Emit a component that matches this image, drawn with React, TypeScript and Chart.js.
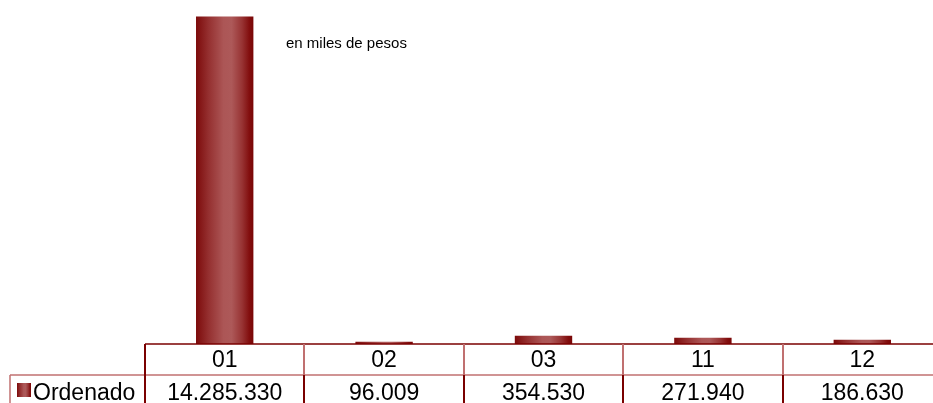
import React, { useEffect, useRef } from "react";
import { Chart, registerables } from "chart.js";

Chart.register(...registerables);

const categories = ["01", "02", "03", "11", "12"];
const seriesName = "Ordenado";
const values = [14285330, 96009, 354530, 271940, 186630];
const unitNote = "en miles de pesos";
const yMax = 15000000;

const DARK = "#7f0a0a";
const LINE = "#7a0000";
const LIGHT_LINE = "#c07070";
const FONT = 'Arial, "Liberation Sans", sans-serif';

function fmt(v: number): string {
  return String(v).replace(/\B(?=(\d{3})+(?!\d))/g, ".");
}

function barGradient(ctx: CanvasRenderingContext2D, x0: number, x1: number) {
  const g = ctx.createLinearGradient(x0, 0, x1, 0);
  g.addColorStop(0, "#7c0a0a");
  g.addColorStop(0.22, "#953030");
  g.addColorStop(0.48, "#ac5656");
  g.addColorStop(0.62, "#ad5959");
  g.addColorStop(0.8, "#983434");
  g.addColorStop(0.93, "#820e0e");
  g.addColorStop(1, "#790606");
  return g;
}

const tablePlugin = {
  id: "dataTable",
  afterDraw(chart: any) {
    const ctx: CanvasRenderingContext2D = chart.ctx;
    const xs = chart.scales.x;
    const area = chart.chartArea;
    const n = categories.length;
    const colW = (area.right - area.left) / n;
    const top = area.bottom;
    const row1 = top + 31;
    const bottom = chart.height + 5;
    const rightEdge = chart.width;
    ctx.save();
    ctx.strokeStyle = LIGHT_LINE;
    ctx.lineWidth = 1.5;
    ctx.beginPath();
    ctx.moveTo(10, row1);
    ctx.lineTo(rightEdge, row1);
    ctx.stroke();
    ctx.strokeStyle = LINE;
    ctx.lineWidth = 1.5;
    ctx.beginPath();
    ctx.moveTo(area.left, top);
    ctx.lineTo(rightEdge, top);
    ctx.stroke();
    ctx.lineWidth = 2;
    for (let i = 0; i <= n; i++) {
      const x = Math.round(area.left + i * colW);
      ctx.strokeStyle = i === 0 ? LINE : LIGHT_LINE;
      ctx.beginPath();
      ctx.moveTo(x, top);
      ctx.lineTo(x, row1);
      ctx.stroke();
      ctx.strokeStyle = LINE;
      ctx.beginPath();
      ctx.moveTo(x, row1);
      ctx.lineTo(x, bottom);
      ctx.stroke();
    }
    ctx.strokeStyle = LIGHT_LINE;
    ctx.lineWidth = 1.5;
    ctx.beginPath();
    ctx.moveTo(10, row1);
    ctx.lineTo(10, bottom);
    ctx.stroke();

    ctx.fillStyle = "#000";
    ctx.font = `23px ${FONT}`;
    ctx.textAlign = "center";
    ctx.textBaseline = "alphabetic";
    categories.forEach((c, i) => {
      const x = xs.getPixelForValue(i);
      ctx.fillText(c, x, top + 23);
      ctx.fillText(fmt(values[i]), x, row1 + 25);
    });
    ctx.fillStyle = barGradient(ctx, 17, 31);
    ctx.fillRect(17, 383, 14, 14);
    ctx.fillStyle = "#000";
    ctx.textAlign = "left";
    ctx.fillText(seriesName, 33, row1 + 25);

    ctx.font = `15px ${FONT}`;
    ctx.fillText(unitNote, 286, 48);
    ctx.restore();
  },
};

export default function App() {
  const ref = useRef<HTMLCanvasElement | null>(null);
  useEffect(() => {
    if (!ref.current) return;
    const chart = new Chart(ref.current, {
      type: "bar",
      data: {
        labels: categories,
        datasets: [
          {
            label: seriesName,
            data: values,
            backgroundColor: (c: any) => {
              const ch = c.chart;
              const xs = ch.scales?.x;
              if (!xs || !ch.chartArea || c.dataIndex === undefined) return DARK;
              const colW = (ch.chartArea.right - ch.chartArea.left) / categories.length;
              const w = colW * 0.36;
              const cx = xs.getPixelForValue(c.dataIndex);
              return barGradient(ch.ctx, cx - w / 2, cx + w / 2);
            },
            borderWidth: 0,
            categoryPercentage: 1,
            barPercentage: 0.36,
          },
        ],
      },
      options: {
        responsive: false,
        animation: false,
        devicePixelRatio: 1,
        layout: { padding: { left: 145, right: 18, top: 0, bottom: 59 } },
        plugins: { legend: { display: false }, tooltip: { enabled: false }, title: { display: false } },
        scales: {
          x: { display: false, type: "category" },
          y: { display: false, min: 0, max: yMax },
        },
      },
      plugins: [tablePlugin],
    } as any);
    return () => chart.destroy();
  }, []);
  return (
    <div
      style={{
        position: "fixed",
        left: 0,
        top: 0,
        width: 933,
        height: 403,
        overflow: "hidden",
        background: "#fff",
      }}
    >
      <canvas ref={ref} width={960} height={403} style={{ width: 960, height: 403, display: "block" }} />
    </div>
  );
}
